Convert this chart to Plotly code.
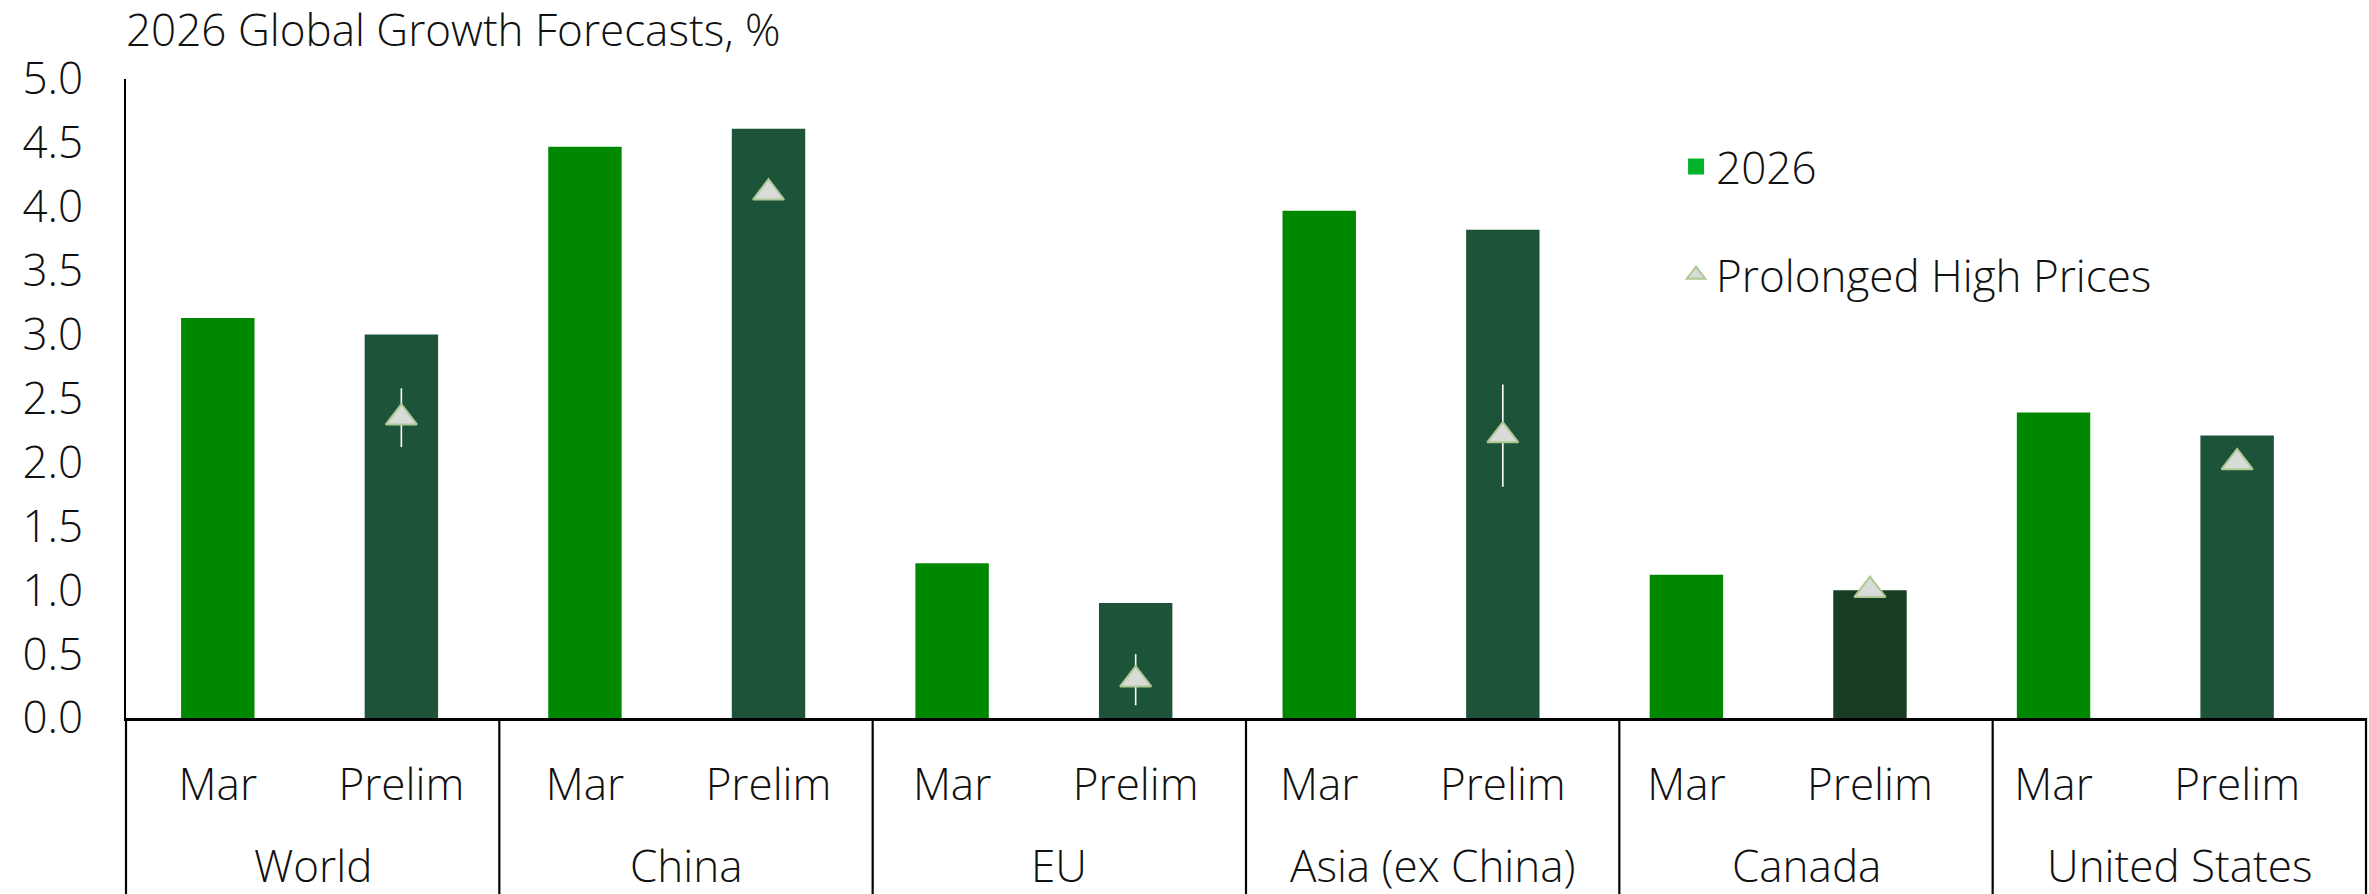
import plotly.graph_objects as go

# 2026 growth forecasts by region: March round vs preliminary update
regions = ["World", "China", "EU", "Asia (ex China)", "Canada", "United States"]
rounds = ["Mar", "Prelim"]
mar = [3.13, 4.47, 1.21, 3.97, 1.12, 2.39]
prelim = [3.00, 4.61, 0.90, 3.82, 1.00, 2.21]

# "Prolonged High Prices" scenario (on the Prelim bars) with its range
prolonged = [2.35, 4.11, 0.30, 2.21, 1.00, 2.00]
prolonged_err = [0.23, 0.0, 0.20, 0.40, 0.0, 0.0]

y_ticks = [0.0, 0.5, 1.0, 1.5, 2.0, 2.5, 3.0, 3.5, 4.0, 4.5, 5.0]

MAR_COLOR = "#008800"
PRELIM_COLOR = "#1c5339"
PRELIM_CANADA_COLOR = "#183d24"
LEGEND_GREEN = "#00b32a"
TEXT_COLOR = "#111111"
FONT = "Open Sans"
FSIZE = 44
WEIGHT = 300

W, H = 2369, 894
M_L, M_R, M_T, M_B = 126, 3, 79, 176
plot_h = H - M_T - M_B

# one category per (region, round) pair; the round is shown as tick text
keys, tick_text, y_vals, bar_colors = [], [], [], []
for r, m, p in zip(regions, mar, prelim):
    for rnd, v in zip(rounds, (m, p)):
        keys.append(f"{r} | {rnd}")
        tick_text.append(rnd)
        y_vals.append(v)
        if rnd == "Mar":
            bar_colors.append(MAR_COLOR)
        else:
            bar_colors.append(PRELIM_CANADA_COLOR if r == "Canada" else PRELIM_COLOR)

prelim_keys = [f"{r} | Prelim" for r in regions]

fig = go.Figure()

fig.add_trace(go.Bar(
    x=keys,
    y=y_vals,
    marker=dict(color=bar_colors, line=dict(width=0)),
    width=0.4,
    name="2026",
    showlegend=False,
    hoverinfo="y",
))

# legend swatch for the bar series
fig.add_trace(go.Scatter(
    x=[None], y=[None],
    mode="markers",
    marker=dict(symbol="square", color=LEGEND_GREEN, size=26),
    name="2026",
    legendgroup="a",
    hoverinfo="skip",
))

fig.add_trace(go.Scatter(
    x=prelim_keys,
    y=prolonged,
    mode="markers",
    marker=dict(symbol="triangle-up", size=27, color="#d9dbd9",
                line=dict(color="#aec894", width=2)),
    error_y=dict(type="data", array=prolonged_err, visible=True,
                 color="white", thickness=1.6, width=0),
    name="Prolonged High Prices",
    legendgroup="b",
))

# region names under each pair of bars, and the separators between regions
n_cat = len(keys)
per_group = len(rounds)
group_label_y = -(865 - (H - M_B)) / plot_h
bottom_y = -M_B / plot_h
annotations = []
shapes = []
for gi, r in enumerate(regions):
    annotations.append(dict(
        text=r, xref="paper", yref="paper",
        x=(gi * per_group + per_group / 2) / n_cat, y=group_label_y,
        xanchor="center", yanchor="middle", showarrow=False,
        font=dict(family=FONT, size=FSIZE, color=TEXT_COLOR, weight=WEIGHT),
    ))
for gi in range(len(regions) + 1):
    xp = gi * per_group / n_cat
    shapes.append(dict(
        type="line", xref="paper", yref="paper",
        x0=xp, x1=xp, y0=0, y1=bottom_y,
        line=dict(color="black", width=2.2),
    ))

fig.update_layout(
    width=W,
    height=H,
    margin=dict(l=M_L, r=M_R, t=M_T, b=M_B),
    paper_bgcolor="white",
    plot_bgcolor="white",
    font=dict(family=FONT, size=FSIZE, color=TEXT_COLOR, weight=WEIGHT),
    title=dict(
        text="2026 Global Growth Forecasts, %",
        x=0, xref="paper", xanchor="left",
        y=1 - 31 / H, yref="container", yanchor="middle",
        font=dict(family=FONT, size=FSIZE, color=TEXT_COLOR, weight=WEIGHT),
        pad=dict(l=0),
    ),
    barmode="overlay",
    showlegend=True,
    legend=dict(
        x=0.692, y=0.918, xanchor="left", yanchor="top",
        bgcolor="rgba(0,0,0,0)",
        font=dict(family=FONT, size=FSIZE, color=TEXT_COLOR, weight=WEIGHT),
        tracegroupgap=48,
    ),
    annotations=annotations,
    shapes=shapes,
)

fig.update_xaxes(
    type="category",
    tickvals=keys,
    ticktext=tick_text,
    showline=True, linecolor="black", linewidth=3,
    showgrid=False, zeroline=False,
    ticks="",
    ticklabelstandoff=26,
    tickfont=dict(family=FONT, size=FSIZE, color=TEXT_COLOR, weight=WEIGHT),
)

fig.update_yaxes(
    range=[0, 5],
    tickvals=y_ticks,
    ticktext=[f"{v:.1f}" for v in y_ticks],
    showline=True, linecolor="black", linewidth=2,
    showgrid=False, zeroline=False,
    ticks="",
    ticklabelstandoff=32,
    tickfont=dict(family=FONT, size=FSIZE, color=TEXT_COLOR, weight=WEIGHT),
)

fig.write_html("out.html")
